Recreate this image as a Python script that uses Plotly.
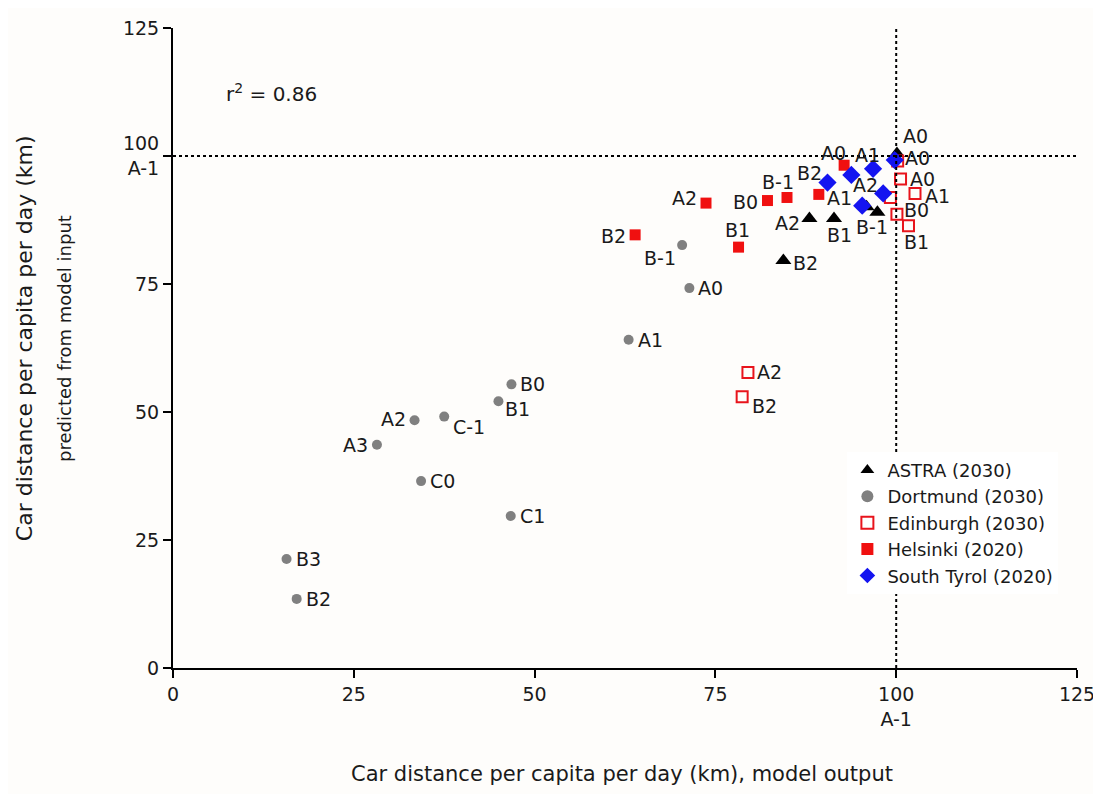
import plotly.graph_objects as go

# ---------------- data ----------------
astra_x = [100.1, 88.0, 91.4, 95.9, 97.4, 84.4]
astra_y = [100.5, 87.8, 87.8, 90.1, 89.0, 79.6]
astra_lbl = ["A0", "A2", "B1", "", "B-1", "B2"]

dort_x = [15.7, 17.1, 28.2, 33.4, 37.5, 34.3, 46.7, 45.0, 46.8, 63.0, 71.4, 70.4]
dort_y = [21.3, 13.5, 43.6, 48.4, 49.1, 36.5, 29.7, 52.1, 55.4, 64.1, 74.2, 82.6]
dort_lbl = ["B3", "B2", "A3", "A2", "C-1", "C0", "C1", "B1", "B0", "A1", "A0", "B-1"]

edin_x = [79.5, 78.7, 100.6, 102.6, 99.2, 100.1, 101.7, 100.2]
edin_y = [57.7, 53.0, 95.5, 92.7, 91.9, 88.6, 86.4, 99.0]
edin_lbl = ["A2", "B2", "A0", "A1", "", "B0", "B1", ""]

hels_x = [73.7, 63.9, 82.2, 84.9, 78.2, 89.3, 92.8]
hels_y = [90.8, 84.6, 91.3, 91.9, 82.2, 92.5, 98.2]
hels_lbl = ["A2", "B2", "B0", "B-1", "B1", "A1", "A0"]

styr_x = [90.5, 93.8, 96.8, 98.2, 95.3, 99.8]
styr_y = [94.8, 96.3, 97.5, 92.7, 90.3, 99.2]
styr_lbl = ["B2", "", "A1", "A2", "", "A0"]

tick_vals = [0, 25, 50, 75, 100, 125]
tick_text = ["0", "25", "50", "75", "100<br>A-1", "125"]
ref_value = 100
r2_text = "r<sup>2</sup> = 0.86"
x_title = "Car distance per capita per day (km), model output"
y_title_1 = "Car distance per capita per day (km)"
y_title_2 = "predicted from model input"

# ---------------- label placement (style) ----------------
# (xanchor, xshift, yshift)
astra_pos = [("left", 4, 17), ("right", -7, -5), ("center", 5, -17), None, ("center", -5, -15), ("left", 8, -3)]
dort_pos = [("left", 7, 0), ("left", 7, 0), ("right", -7, 0), ("right", -7, 1), ("left", 7, -10),
            ("left", 7, 0), ("left", 7, 0), ("left", 5, -8), ("left", 7, 0), ("left", 7, 0),
            ("left", 7, 0), ("right", -4, -13)]
edin_pos = [("left", 7, 1), ("left", 8, -9), ("left", 7, 0), ("left", 8, -3), None,
            ("left", 5, 4), ("left", -6, -16), None]
hels_pos = [("right", -7, 5), ("right", -7, -1), ("right", -7, -1), ("center", -9, 15),
            ("center", -1, 17), ("left", 6, -4), ("center", -11, 12)]
styr_pos = [("right", -4, 10), None, ("center", -6, 14), ("right", -3, 8), None, ("left", 8, 2)]

FAM = "DejaVu Sans, Verdana, sans-serif"
TXT = "#1a1a1a"
LABEL_FONT = dict(family=FAM, size=19, color=TXT)

fig = go.Figure()

series = [
    ("ASTRA (2030)", astra_x, astra_y, dict(symbol="triangle-up", size=14, color="black")),
    ("Dortmund (2030)", dort_x, dort_y, dict(symbol="circle", size=10, color="#808080")),
    ("Edinburgh (2030)", edin_x, edin_y, dict(symbol="square-open", size=11, color="#e8141c",
                                             line=dict(width=2, color="#e8141c"))),
    ("Helsinki (2020)", hels_x, hels_y, dict(symbol="square", size=11, color="#f01010")),
    ("South Tyrol (2020)", styr_x, styr_y, dict(symbol="diamond", size=14, color="#1414f0")),
]
for name, xs, ys, mk in series:
    fig.add_trace(go.Scatter(x=xs, y=ys, mode="markers", name=name, marker=mk,
                             hoverinfo="x+y+name"))

# reference dotted lines
fig.add_trace(go.Scatter(x=[0, 125], y=[ref_value, ref_value], mode="lines",
                         line=dict(color="black", width=2, dash="dot"), showlegend=False, hoverinfo="skip"))
fig.add_trace(go.Scatter(x=[ref_value, ref_value], y=[0, 125], mode="lines",
                         line=dict(color="black", width=2, dash="dot"), showlegend=False, hoverinfo="skip"))

annotations = []
for (xs, ys, lbls, pos) in [(astra_x, astra_y, astra_lbl, astra_pos),
                            (dort_x, dort_y, dort_lbl, dort_pos),
                            (edin_x, edin_y, edin_lbl, edin_pos),
                            (hels_x, hels_y, hels_lbl, hels_pos),
                            (styr_x, styr_y, styr_lbl, styr_pos)]:
    for x, y, t, p in zip(xs, ys, lbls, pos):
        if not t or p is None:
            continue
        xa, dx, dy = p
        annotations.append(dict(x=x, y=y, xref="x", yref="y", text=t, showarrow=False,
                                xanchor=xa, yanchor="middle", xshift=dx, yshift=dy,
                                font=LABEL_FONT))

annotations.append(dict(x=7, y=112.3, xref="x", yref="y", text=r2_text, showarrow=False,
                        xanchor="left", yanchor="middle", font=dict(family=FAM, size=20, color=TXT)))
annotations.append(dict(x=0.497, y=-0.166, xref="paper", yref="paper", text=x_title,
                        showarrow=False, xanchor="center", yanchor="middle",
                        font=dict(family=FAM, size=21, color=TXT)))
annotations.append(dict(x=-0.164, y=0.515, xref="paper", yref="paper", text=y_title_1,
                        showarrow=False, textangle=-90, xanchor="center", yanchor="middle",
                        font=dict(family=FAM, size=22, color=TXT)))
annotations.append(dict(x=-0.120, y=0.515, xref="paper", yref="paper", text=y_title_2,
                        showarrow=False, textangle=-90, xanchor="center", yanchor="middle",
                        font=dict(family=FAM, size=18, color=TXT)))

axis_common = dict(range=[0, 125], tickvals=tick_vals, ticktext=tick_text, showgrid=False,
                   zeroline=False, showline=True, linecolor="black", linewidth=2,
                   ticks="outside", ticklen=8, tickwidth=2, tickcolor="black",
                   ticklabeloverflow="allow",
                   tickfont=dict(family=FAM, size=19, color=TXT))

fig.update_layout(
    width=1101, height=794,
    margin=dict(l=165, r=32, t=9, b=134),
    paper_bgcolor="#fefdfb", plot_bgcolor="#fefdfb",
    xaxis=dict(**axis_common),
    yaxis=dict(**axis_common),
    annotations=annotations,
    showlegend=True,
    legend=dict(x=0.746, y=0.338, xanchor="left", yanchor="top",
                bgcolor="#ffffff", font=dict(family=FAM, size=18, color=TXT),
                itemsizing="constant", tracegroupgap=0),
)

fig.write_html("out.html")
